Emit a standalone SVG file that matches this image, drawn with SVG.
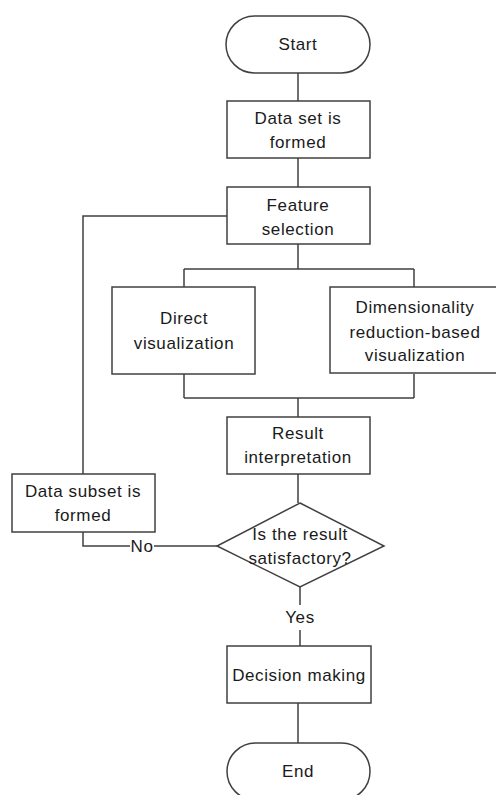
<svg xmlns="http://www.w3.org/2000/svg" width="496" height="795" viewBox="0 0 496 795">
<style>
.n{fill:#fff;stroke:#404040;stroke-width:1.5}
.c{fill:none;stroke:#404040;stroke-width:1.5}
text{font-family:"Liberation Sans",Arial,sans-serif;font-size:17px;fill:#1a1a1a;text-anchor:middle;letter-spacing:0.6px}
</style>
<rect width="496" height="795" fill="#fff"/>
<g id="connectors">
<path class="c" d="M298 73V101M298 158V187M298 244V269M184 269H414M184 269V287M414 269V287M184 374V398M414 374V398M184 398H414M298 398V417M298 474V503M300 587V605M300 630V646M298 703V743"/>
<path class="c" d="M227 216H83V474M83 532V546H130M154 546H217"/>
</g>
<g id="start"><rect class="n" x="226" y="16" width="144" height="57" rx="28.5"/><text x="298" y="50">Start</text></g>
<g id="dataset"><rect class="n" x="227" y="101" width="143" height="57"/><text x="298" y="124">Data set is</text><text x="298" y="148">formed</text></g>
<g id="feature"><rect class="n" x="227" y="187" width="143" height="57"/><text x="298" y="211">Feature</text><text x="298" y="235">selection</text></g>
<g id="direct"><rect class="n" x="112" y="287" width="143" height="87"/><text x="184" y="324">Direct</text><text x="184" y="349">visualization</text></g>
<g id="dimred"><rect class="n" x="330" y="287" width="175" height="86"/><text x="415" y="313">Dimensionality</text><text x="415" y="338">reduction-based</text><text x="415" y="361">visualization</text></g>
<g id="result"><rect class="n" x="227" y="417" width="143" height="57"/><text x="298" y="439">Result</text><text x="298" y="463">interpretation</text></g>
<g id="subset"><rect class="n" x="12" y="474" width="143" height="58"/><text x="83" y="497">Data subset is</text><text x="83" y="521">formed</text></g>
<g id="decision"><polygon class="n" points="300,503 384,546 300,587 217,546"/><text x="300" y="540">Is the result</text><text x="300" y="564">satisfactory?</text></g>
<text x="142" y="552">No</text>
<text x="300" y="623">Yes</text>
<g id="making"><rect class="n" x="227" y="646" width="144" height="57"/><text x="299" y="681">Decision making</text></g>
<g id="end"><rect class="n" x="227" y="743" width="143" height="57" rx="28.5"/><text x="298" y="777">End</text></g>
</svg>
